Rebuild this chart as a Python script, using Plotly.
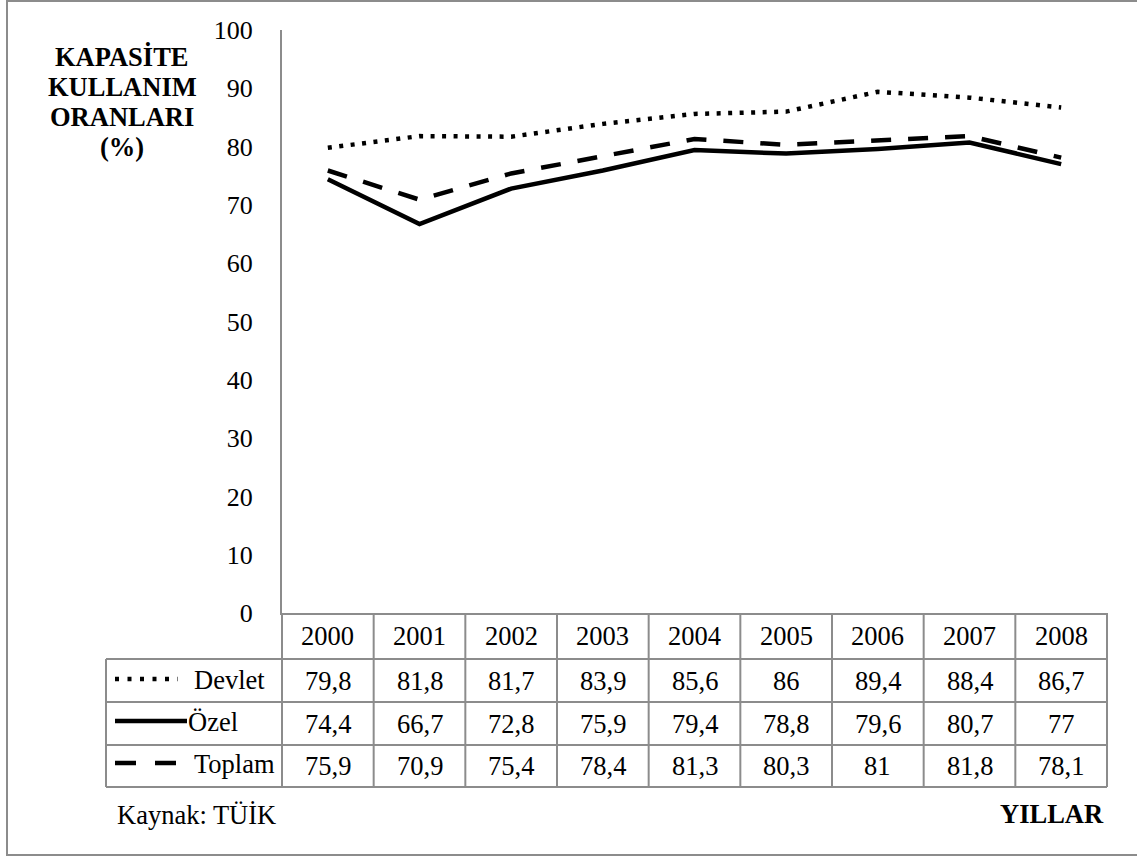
import plotly.graph_objects as go

# Capacity utilisation rates (%) by sector, 2000-2008
years = [2000, 2001, 2002, 2003, 2004, 2005, 2006, 2007, 2008]
devlet = [79.8, 81.8, 81.7, 83.9, 85.6, 86, 89.4, 88.4, 86.7]
ozel = [74.4, 66.7, 72.8, 75.9, 79.4, 78.8, 79.6, 80.7, 77]
toplam = [75.9, 70.9, 75.4, 78.4, 81.3, 80.3, 81, 81.8, 78.1]
series_names = ["Devlet", "Özel", "Toplam"]
y_ticks = [0, 10, 20, 30, 40, 50, 60, 70, 80, 90, 100]

W, H = 1137, 856
ML, MR, MT, MB = 282, 30, 30, 243
PW, PH = W - ML - MR, H - MT - MB

FONT = "Liberation Serif"
GRID = "#8c8c8c"
FS = 26.5


def px(xp):
    return (xp - ML) / PW


def py(yp):
    return (MT + PH - yp) / PH


def fmt(v):
    return ("%g" % v).replace(".", ",")


def label(x, y, text, xref="paper", xanchor="center", size=FS):
    return dict(x=x, y=y, xref=xref, yref="paper", text=text, showarrow=False,
                xanchor=xanchor, yanchor="middle",
                font=dict(family=FONT, size=size, color="black"))


line_styles = {
    "Devlet": dict(color="black", width=4.5, dash="4px,7.5px"),
    "Özel": dict(color="black", width=4.5),
    "Toplam": dict(color="black", width=4.5, dash="20px,17px"),
}

fig = go.Figure()
for name, vals in zip(series_names, [devlet, ozel, toplam]):
    fig.add_trace(go.Scatter(x=years, y=vals, mode="lines", name=name,
                             line=line_styles[name], showlegend=False))

shapes = []
annotations = []

# outer frame
shapes.append(dict(type="rect", xref="paper", yref="paper",
                   x0=px(7), x1=px(1145), y0=py(855), y1=py(1),
                   line=dict(color=GRID, width=2), layer="below"))

# data table grid
row_edges = [613, 659, 702, 745, 787]
x_left_table = 106
x_right_table = ML + PW
col_w = PW / len(years)
shapes.append(dict(type="line", xref="paper", yref="paper",
                   x0=px(ML), x1=px(x_right_table), y0=py(659), y1=py(659),
                   line=dict(color=GRID, width=2)))
for ye in row_edges[1:]:
    shapes.append(dict(type="line", xref="paper", yref="paper",
                       x0=px(x_left_table), x1=px(x_right_table), y0=py(ye), y1=py(ye),
                       line=dict(color=GRID, width=2)))
for i in range(len(years) + 1):
    xe = ML + i * col_w
    shapes.append(dict(type="line", xref="paper", yref="paper",
                       x0=px(xe), x1=px(xe), y0=py(613), y1=py(787),
                       line=dict(color=GRID, width=2)))
shapes.append(dict(type="line", xref="paper", yref="paper",
                   x0=px(x_left_table), x1=px(x_left_table), y0=py(659), y1=py(787),
                   line=dict(color=GRID, width=2)))

row_centers = [(row_edges[k] + row_edges[k + 1]) / 2 for k in range(4)]

# header row: years
for yr in years:
    annotations.append(label(yr, py(row_centers[0]), str(yr), xref="x"))

# value rows
for k, vals in enumerate([devlet, ozel, toplam]):
    for yr, v in zip(years, vals):
        annotations.append(label(yr, py(row_centers[k + 1]), fmt(v), xref="x"))

# legend keys inside the table
key_geom = [
    ("Devlet", 115, 178, 679, 192, dict(color="black", width=4.5, dash="4px,8.5px")),
    ("Özel", 115, 187, 721, 186, dict(color="black", width=4.5)),
    ("Toplam", 115, 178, 763, 192, dict(color="black", width=4.5, dash="21px,19px")),
]
for name, x0, x1, yl, xt, st in key_geom:
    shapes.append(dict(type="line", xref="paper", yref="paper",
                       x0=px(x0), x1=px(x1), y0=py(yl), y1=py(yl), line=st))
    annotations.append(label(px(xt), py(yl + 1), name, xanchor="left"))

# y axis title
for text, yc in zip(["KAPASİTE", "KULLANIM", "ORANLARI", "(%)"], [57, 87, 117, 147]):
    annotations.append(label(px(122), py(yc), "<b>%s</b>" % text, size=26.5))

# source and x axis title
annotations.append(label(px(115), py(815), "Kaynak: TÜİK", xanchor="left"))
annotations.append(label(px(1106), py(814), "<b>YILLAR</b>", xanchor="right"))

fig.update_layout(
    width=W, height=H,
    margin=dict(l=ML, r=MR, t=MT, b=MB),
    paper_bgcolor="white", plot_bgcolor="white",
    shapes=shapes, annotations=annotations,
    showlegend=False,
    font=dict(family=FONT),
    xaxis=dict(range=[years[0] - 0.5, years[-1] + 0.5], showgrid=False, zeroline=False,
               showticklabels=False, showline=True, linecolor=GRID, linewidth=2,
               ticks=""),
    yaxis=dict(range=[0, 100], tickvals=y_ticks, showgrid=False, zeroline=False,
               showline=True, linecolor=GRID, linewidth=2, ticks="",
               ticklabelstandoff=22,
               tickfont=dict(family=FONT, size=26, color="black")),
)

fig.write_html("out.html")
